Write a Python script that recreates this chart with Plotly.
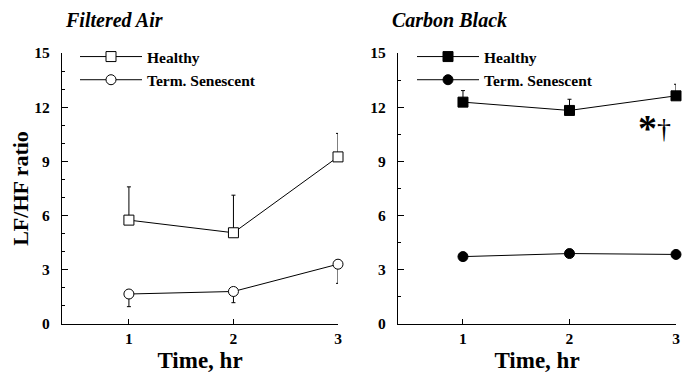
import plotly.graph_objects as go

time = [1, 2, 3]
tick_vals_x = [1, 2, 3]
fa_healthy = [5.75, 5.05, 9.25]
fa_healthy_err = [1.84, 2.08, 1.3]
fa_sen = [1.66, 1.8, 3.31]
fa_sen_err = [0.7, 0.62, 1.06]
cb_healthy = [12.28, 11.82, 12.63]
cb_healthy_err = [0.64, 0.62, 0.64]
cb_sen = [3.73, 3.9, 3.85]
series_names = ["Healthy", "Term. Senescent"]

SERIF = "Liberation Serif"
BLACK = "black"

fig = go.Figure()

def add(x, y, name, symbol, fill, xa, ya, legend, err_up=None, err_down=None):
    err = None
    if err_up is not None:
        err = dict(type="data", symmetric=False, array=err_up, arrayminus=[0]*len(err_up),
                   color=BLACK, thickness=1, width=2)
    if err_down is not None:
        err = dict(type="data", symmetric=False, array=[0]*len(err_down), arrayminus=err_down,
                   color=BLACK, thickness=1, width=2)
    fig.add_trace(go.Scatter(
        x=x, y=y, name=name, mode="lines+markers", xaxis=xa, yaxis=ya, legend=legend,
        line=dict(color=BLACK, width=1),
        marker=dict(symbol=symbol, size=10, color=fill, line=dict(color=BLACK, width=1)),
        error_y=err, cliponaxis=False,
    ))

add(time, fa_healthy, series_names[0], "square", "white", "x", "y", "legend", err_up=fa_healthy_err)
add(time, fa_sen, series_names[1], "circle", "white", "x", "y", "legend", err_down=fa_sen_err)
add(time, cb_healthy, series_names[0], "square", BLACK, "x2", "y2", "legend2", err_up=cb_healthy_err)
add(time, cb_sen, series_names[1], "circle", BLACK, "x2", "y2", "legend2")

tickfont = dict(family=SERIF, size=15.5, color=BLACK, weight="bold")
xtitlefont = dict(family=SERIF, size=23, color=BLACK, weight="bold")
ytitlefont = dict(family=SERIF, size=22, color=BLACK, weight="bold")
legfont = dict(family=SERIF, size=15.5, color=BLACK, weight="bold")
headfont = dict(family=SERIF, size=20, color=BLACK, weight="bold", style="italic")

# page body has an 8px margin: lay out in screenshot pixels, shifted by OFF
OFF = 8
W, H = 692 - OFF, 378 - OFF
left_px, right_px, top_px, bottom_px = 62, 676, 53, 324
ml, mt = left_px - OFF, top_px - OFF
mr, mb = W - (right_px - OFF), H - (bottom_px - OFF)
pw = W - ml - mr
ph = H - mt - mb

def px(x):
    return (x - OFF - ml) / pw

def py(y):
    return 1 - (y - OFF - mt) / ph

def xaxis(domain, rng, anchor):
    return dict(domain=domain, range=rng, anchor=anchor, tickvals=tick_vals_x,
                ticks="inside", ticklen=5, tickwidth=1, tickcolor=BLACK,
                showline=True, linecolor=BLACK, linewidth=1.3, showgrid=False, zeroline=False,
                automargin=False, tickfont=tickfont,
                title=dict(text="Time, hr", font=xtitlefont, standoff=6))

def yaxis(anchor, minor_dtick, title=None):
    d = dict(domain=[0, 1], range=[0, 15], anchor=anchor, dtick=3, tick0=0,
             ticks="inside", ticklen=6, tickwidth=1, tickcolor=BLACK,
             minor=dict(dtick=minor_dtick, tick0=0, ticks="inside", ticklen=3, tickcolor=BLACK, showgrid=False),
             showline=True, linecolor=BLACK, linewidth=1.3, showgrid=False, zeroline=False,
             automargin=False, tickfont=tickfont, ticklabelstandoff=8)
    if title:
        d["title"] = dict(text=title, font=ytitlefont, standoff=10)
    return d

fig.update_layout(
    width=W, height=H, margin=dict(l=ml, r=mr, t=mt, b=mb, autoexpand=False),
    paper_bgcolor="white", plot_bgcolor="white",
    font=dict(family=SERIF, color=BLACK),
    xaxis=xaxis([0, px(338)], [0.36, 3], "y"),
    yaxis=yaxis("x", 1, "LF/HF ratio"),
    xaxis2=xaxis([px(398), 1], [0.39, 3], "y2"),
    yaxis2=yaxis("x2", 1.5),
    legend=dict(x=px(75), y=1 - (68.5 - OFF) / H, yref="container", xanchor="left", yanchor="middle",
                bgcolor="rgba(0,0,0,0)", font=legfont, itemwidth=62, tracegroupgap=0),
    legend2=dict(x=px(412), y=1 - (68.5 - OFF) / H, yref="container", xanchor="left", yanchor="middle",
                 bgcolor="rgba(0,0,0,0)", font=legfont, itemwidth=62, tracegroupgap=0),
    showlegend=True,
    annotations=[
        dict(text="Filtered Air", xref="paper", yref="paper", x=px(63), y=py(20),
             xanchor="left", yanchor="middle", showarrow=False, font=headfont),
        dict(text="Carbon Black", xref="paper", yref="paper", x=px(390), y=py(20),
             xanchor="left", yanchor="middle", showarrow=False, font=headfont),
        dict(text="*", xref="x2", yref="y2", x=2.73, y=11.05, showarrow=False,
             xanchor="center", yanchor="middle", yshift=-4,
             font=dict(family=SERIF, size=38, color=BLACK, weight="bold")),
        dict(text="†", xref="x2", yref="y2", x=2.885, y=10.8, showarrow=False,
             xanchor="center", yanchor="middle",
             font=dict(family=SERIF, size=28, color=BLACK)),
    ],
)

fig.write_html("out.html")
